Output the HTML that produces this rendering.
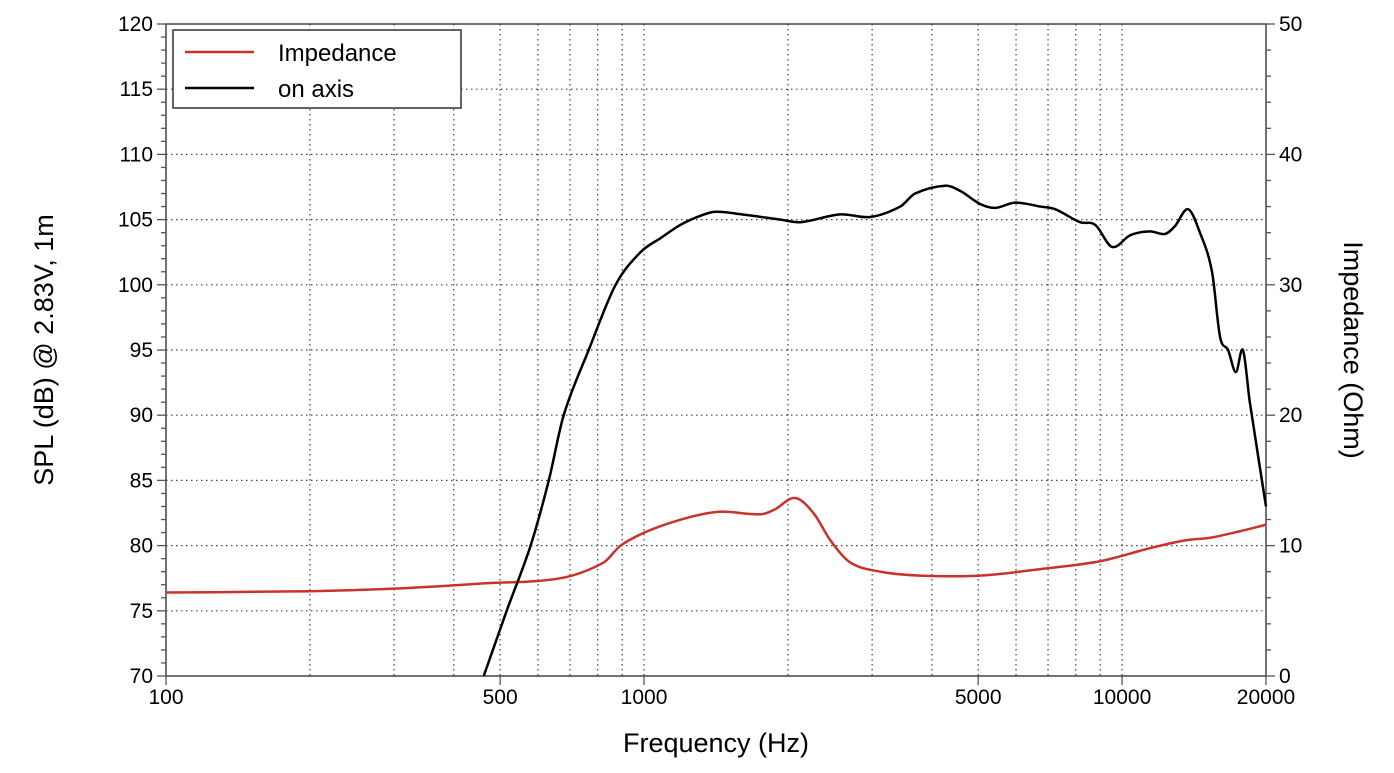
<!DOCTYPE html>
<html><head><meta charset="utf-8"><style>
body{margin:0;background:#fff;}
svg{display:block;font-family:"Liberation Sans",sans-serif;}
</style></head><body>
<svg id="chart" width="1394" height="773" viewBox="0 0 1394 773">
<g id="grid"></g>
<g id="axes"></g>
<g id="series"></g>
<text x="716" y="752" font-size="27" text-anchor="middle">Frequency (Hz)</text>
<text transform="translate(53,350) rotate(-90)" font-size="27" text-anchor="middle">SPL (dB) @ 2.83V, 1m</text>
<text transform="translate(1344,350) rotate(90)" font-size="27" text-anchor="middle">Impedance (Ohm)</text>
<g>
<rect x="173" y="30" width="288" height="78" fill="#fff" stroke="#333" stroke-width="1.5"/>
<line x1="185" y1="52" x2="254" y2="52" stroke="#c8332b" stroke-width="2.5"/>
<text x="278" y="61" font-size="24">Impedance</text>
<line x1="185" y1="88" x2="254" y2="88" stroke="#000" stroke-width="2.5"/>
<text x="278" y="97" font-size="24">on axis</text>
</g>
</svg>
<script>
const xTicks=[100,500,1000,5000,10000,20000];
const xTickLabels=["100","500","1000","5000","10000","20000"];
const xGrid=[200,300,400,500,600,700,800,900,1000,2000,3000,4000,5000,6000,7000,8000,9000,10000];
const yTicks=[70,75,80,85,90,95,100,105,110,115,120];
const y2Ticks=[0,10,20,30,40,50];
const splFreq=[462,516,579,632,679,766,872,983,1085,1192,1313,1411,1600,1928,2124,2574,2974,3436,3690,4266,4585,5048,5428,5976,6743,7244,8167,8785,9530,10400,11430,12300,12900,13740,14550,15420,16030,16660,17300,17900,18500,20000];
const splDb=[70,75,80,85,90,95,100,102.5,103.6,104.6,105.3,105.6,105.4,105,104.8,105.4,105.2,106,107,107.6,107.2,106.2,105.9,106.3,106,105.8,104.8,104.6,102.9,103.8,104.1,103.9,104.5,105.8,104,101,96,95,93.3,95,91,83];
const impFreq=[100,200,300,462,669,823,893,1032,1251,1445,1752,1883,2025,2124,2282,2454,2702,3121,3783,5048,6743,8993,11430,13550,15280,17650,20000];
const impOhm=[6.4,6.5,6.7,7.1,7.5,8.7,10,11.2,12.2,12.6,12.4,12.8,13.6,13.5,12.3,10.4,8.7,8.0,7.7,7.7,8.2,8.8,9.8,10.4,10.6,11.1,11.6];

const L=166,R=1266,T=24,B=676;
const xs=f=>L+(R-L)*Math.log10(f/100)/Math.log10(200);
const ys=v=>B-(B-T)*(v-70)/50;
const y2=v=>B-(B-T)*v/50;
const NS="http://www.w3.org/2000/svg";
function mk(p,tag,attrs){const e=document.createElementNS(NS,tag);for(const k in attrs)e.setAttribute(k,attrs[k]);p.appendChild(e);return e;}
const grid=document.getElementById('grid'),axes=document.getElementById('axes'),series=document.getElementById('series');
xGrid.forEach(f=>{const e=mk(grid,'line',{x1:xs(f),x2:xs(f),y1:T,y2:B,stroke:'#444','stroke-width':1.2,'stroke-dasharray':'1.5,3.5'});

});
yTicks.slice(1,-1).forEach(v=>{const e=mk(grid,'line',{x1:L,x2:R,y1:ys(v),y2:ys(v),stroke:'#444','stroke-width':1.2,'stroke-dasharray':'1.5,3.5'});

});
const fr=mk(axes,'rect',{x:L,y:T,width:R-L,height:B-T,fill:'none',stroke:'#444','stroke-width':1.5});


for(let v=70;v<=120;v++){const maj=v%5===0;mk(axes,'line',{x1:L-(maj?9:5),x2:L,y1:ys(v),y2:ys(v),stroke:'#555','stroke-width':1.3});}
for(let v=0;v<=50;v+=2){const maj=v%10===0;mk(axes,'line',{x1:R,x2:R+(maj?9:5),y1:y2(v),y2:y2(v),stroke:'#555','stroke-width':1.3});}
yTicks.forEach(v=>{const t=mk(axes,'text',{x:L-13,y:ys(v)+7,'font-size':21,'text-anchor':'end'});t.textContent=v;

});
y2Ticks.forEach(v=>{const t=mk(axes,'text',{x:R+13,y:y2(v)+7,'font-size':21});t.textContent=v;

});
xTicks.forEach((f,i)=>{mk(axes,'line',{x1:xs(f),x2:xs(f),y1:B,y2:B+9,stroke:'#555','stroke-width':1.3});
const t=mk(axes,'text',{x:xs(f),y:B+28,'font-size':21,'text-anchor':'middle'});t.textContent=xTickLabels[i];

});
function smooth(p){const n=p.length,m=[];
for(let i=0;i<n;i++){const a=p[Math.max(0,i-1)],b=p[Math.min(n-1,i+1)];m.push((b[1]-a[1])/(b[0]-a[0]));}
let d=`M${p[0][0]},${p[0][1]}`;
for(let i=0;i<n-1;i++){const dx=(p[i+1][0]-p[i][0])/3;
d+=` C${p[i][0]+dx},${p[i][1]+m[i]*dx} ${p[i+1][0]-dx},${p[i+1][1]-m[i+1]*dx} ${p[i+1][0]},${p[i+1][1]}`;}return d;}
const ip=mk(series,'path',{d:smooth(impFreq.map((f,i)=>[xs(f),y2(impOhm[i])])),fill:'none',stroke:'#c8332b','stroke-width':2.5});


const sp=mk(series,'path',{d:smooth(splFreq.map((f,i)=>[xs(f),ys(splDb[i])])),fill:'none',stroke:'#000','stroke-width':2.5});


</script>
</body></html>
